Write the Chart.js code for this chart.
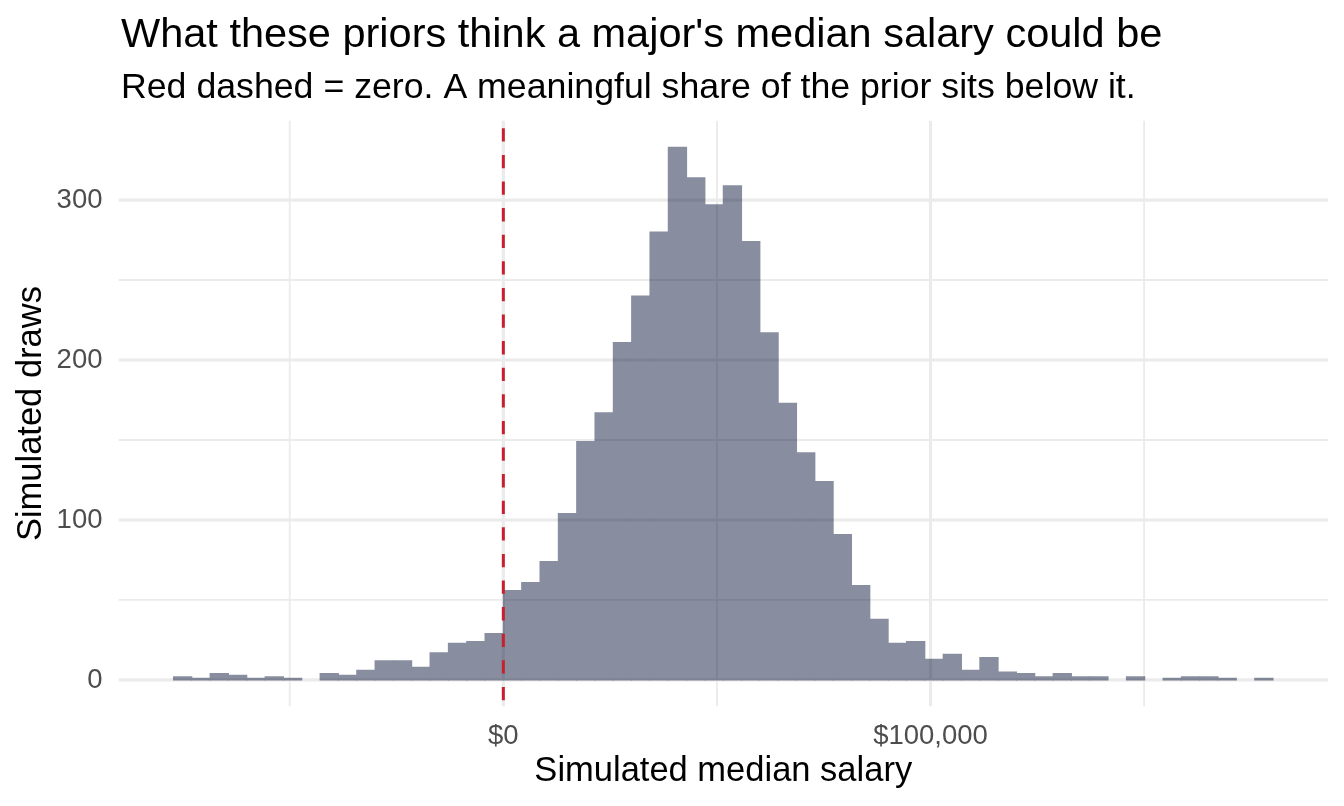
<!DOCTYPE html>
<html lang="en">
<head>
  <meta charset="UTF-8">
  <meta name="viewport" content="width=device-width, initial-scale=1.0">
  <title>Prior draws of median salary</title>
  <style>
    html, body { margin: 0; padding: 0; background: #ffffff; }
    canvas { display: block; }
  </style>
</head>
<body>
  <canvas id="histChart" width="1344" height="806"></canvas>

  <script src="https://cdn.jsdelivr.net/npm/chart.js"></script>
  <script>
    // histogram bins (60 of them), one edge sits on $0
    const binWidth = 4290;
    const firstBinStart = -18 * binWidth;
    const counts = [
      2, 1, 4, 3, 1, 2, 1, 0, 4, 3, 6, 12, 12, 8, 17, 23, 24, 29,
      56, 61, 74, 104, 149, 167, 211, 240, 280, 333, 314, 297, 309, 274, 217, 173,
      142, 124, 91, 59, 38, 23, 24, 13, 16, 6, 14, 5, 4, 2, 4, 2, 2, 0,
      2, 0, 1, 2, 2, 1, 0, 1
    ];

    const xTicks = [-50000, 0, 50000, 100000, 150000];
    const xLabelled = [0, 100000];
    const yTicks = [0, 50, 100, 150, 200, 250, 300];
    const yLabelled = [0, 100, 200, 300];
    const xRange = [-90090, 193050];
    const yRange = [-16.65, 349.65];
    const zeroLine = 0;

    const titleText = "What these priors think a major's median salary could be";
    const subtitleText = 'Red dashed = zero. A meaningful share of the prior sits below it.';

    const FONT = '"Liberation Sans", Arial, Helvetica, sans-serif';

    const binCenters = counts.map((_, i) => firstBinStart + (i + 0.5) * binWidth);
    // empty bins draw nothing
    const points = counts.map((c, i) => ({ x: binCenters[i], y: c === 0 ? null : c }));

    const headerPlugin = {
      id: 'header',
      afterDraw(chart) {
        const ctx = chart.ctx;
        ctx.save();
        ctx.fillStyle = '#000000';
        ctx.textAlign = 'left';
        ctx.textBaseline = 'alphabetic';
        ctx.font = '41.5px ' + FONT;
        ctx.fillText(titleText, 121, 46.7);
        ctx.font = '35.7px ' + FONT;
        ctx.fillText(subtitleText, 121, 97.7);
        ctx.restore();
      }
    };

    // grid goes on top of the (opaque) bars with multiply, so it shows through
    // like it does under a see-through fill, and bars don't get seams
    const gridPlugin = {
      id: 'gridOverlay',
      afterDatasetsDraw(chart) {
        const { ctx, chartArea: a, scales } = chart;
        ctx.save();
        ctx.beginPath();
        ctx.rect(a.left, a.top, a.right - a.left, a.bottom - a.top);
        ctx.clip();
        ctx.globalCompositeOperation = 'multiply';
        ctx.fillStyle = '#ebebeb';
        ctx.beginPath();
        xTicks.forEach(v => {
          const w = xLabelled.includes(v) ? 3.2 : 1.8;
          const px = scales.x.getPixelForValue(v);
          ctx.rect(px - w / 2, a.top, w, a.bottom - a.top);
        });
        yTicks.forEach(v => {
          const h = yLabelled.includes(v) ? 3.2 : 1.8;
          const py = scales.y.getPixelForValue(v);
          ctx.rect(a.left, py - h / 2, a.right - a.left, h);
        });
        ctx.fill('nonzero');
        ctx.restore();
      }
    };

    const zeroLinePlugin = {
      id: 'zeroLine',
      afterDatasetsDraw(chart) {
        const { ctx, chartArea, scales } = chart;
        const x = scales.x.getPixelForValue(zeroLine);
        ctx.save();
        ctx.strokeStyle = '#c9202f';
        ctx.lineWidth = 3;
        ctx.setLineDash([13.3, 13.3]);
        ctx.lineDashOffset = 18.9;
        ctx.beginPath();
        ctx.moveTo(x, chartArea.top);
        ctx.lineTo(x, chartArea.bottom);
        ctx.stroke();
        ctx.restore();
      }
    };

    const ctx = document.getElementById('histChart').getContext('2d');
    const chart = new Chart(ctx, {
      type: 'bar',
      data: {
        datasets: [{
          data: points,
          backgroundColor: '#888ea0',
          borderWidth: 0,
          inflateAmount: 0.5,
          barPercentage: 1,
          categoryPercentage: 1
        }]
      },
      options: {
        responsive: false,
        animation: false,
        events: [],
        layout: { padding: { left: 0, right: 16, top: 120.6, bottom: 0 } },
        plugins: {
          legend: { display: false },
          title: { display: false },
          tooltip: { enabled: false }
        },
        scales: {
          x: {
            type: 'linear',
            offset: false,
            min: xRange[0],
            max: xRange[1],
            afterBuildTicks: (scale) => { scale.ticks = xTicks.map(v => ({ value: v })); },
            afterFit: (scale) => { scale.height = 99.4; },
            border: { display: false },
            grid: { display: false, offset: false },
            ticks: {
              autoSkip: false,
              maxRotation: 0,
              padding: 5.5,
              color: '#4d4d4d',
              font: { family: FONT, size: 27.5 },
              callback: (v) => xLabelled.includes(v) ? '$' + v.toLocaleString('en-US') : ''
            },
            title: {
              display: true,
              text: 'Simulated median salary',
              color: '#000000',
              font: { family: FONT, size: 34.5, lineHeight: 1.2 },
              padding: { top: 0, bottom: 14.3 }
            }
          },
          y: {
            type: 'linear',
            min: yRange[0],
            max: yRange[1],
            afterBuildTicks: (scale) => { scale.ticks = yTicks.map(v => ({ value: v })); },
            afterFit: (scale) => { scale.width = 118.5; },
            border: { display: false },
            grid: { display: false },
            ticks: {
              autoSkip: false,
              padding: 8,
              color: '#4d4d4d',
              font: { family: FONT, size: 27.5 },
              callback: (v) => yLabelled.includes(v) ? String(v) : ''
            },
            title: {
              display: true,
              text: 'Simulated draws',
              color: '#000000',
              font: { family: FONT, size: 34.5, lineHeight: 1.2 },
              padding: { top: 10.5, bottom: 0 }
            }
          }
        }
      },
      plugins: [headerPlugin, gridPlugin, zeroLinePlugin]
    });
  </script>
</body>
</html>
